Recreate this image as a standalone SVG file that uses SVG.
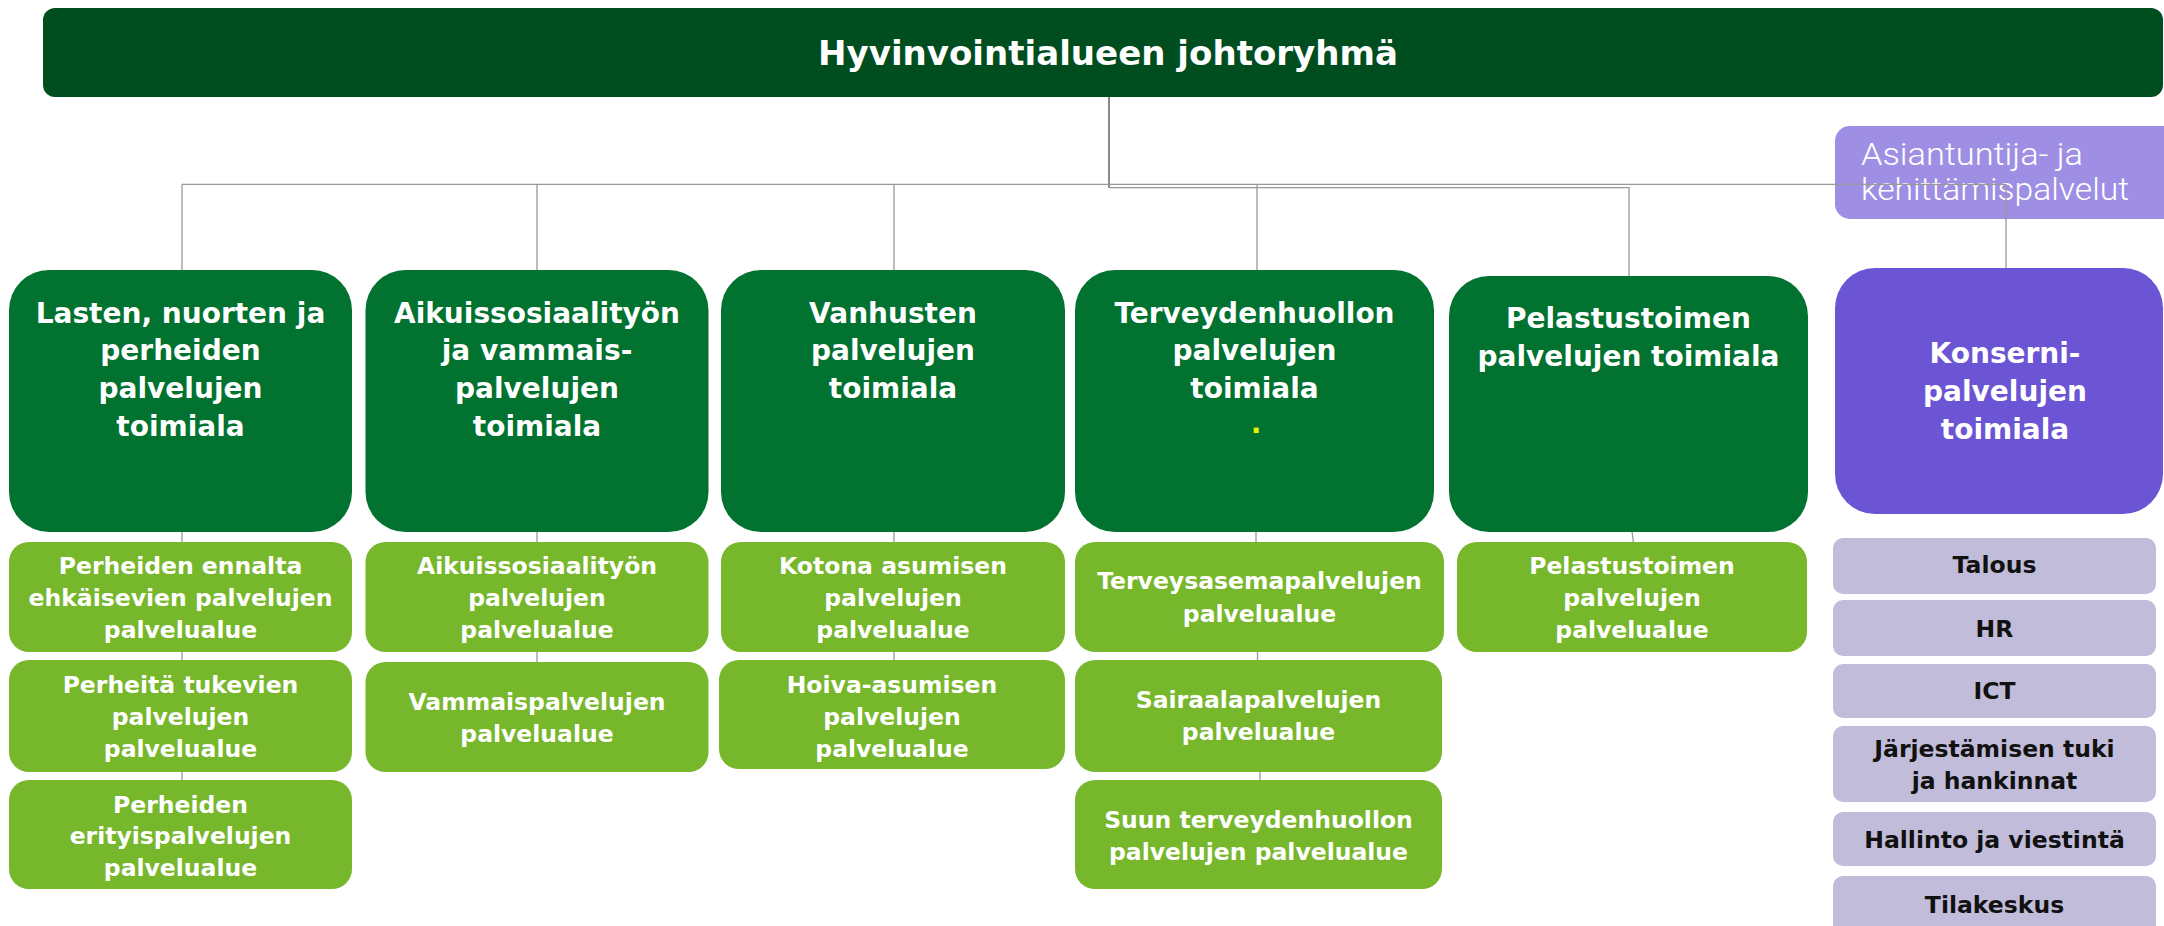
<svg xmlns="http://www.w3.org/2000/svg" width="2164" height="926" viewBox="0 0 2164 926">
<style>
.top{fill:#004D1F}
.main{fill:#01722F}
.sub{fill:#77B72B}
.kon{fill:#6B55D5}
.asi{fill:#9F8FE4}
.lav{fill:#C1BCDA}
.t{font-family:"DejaVu Sans","Liberation Sans",sans-serif;font-weight:bold;text-anchor:middle;fill:#FFFFFF}
.tt{font-size:34px}
.tm{font-size:28px}
.ts{font-size:23.5px}
.tl{fill:#111111}
.ta{font-family:Roboto,"Noto Sans",sans-serif;font-weight:300;font-size:31px;fill:#FFFFFF}
.c{stroke:#999999;stroke-width:1.3;fill:none}
.ck{stroke:#8A8A8A;stroke-width:2;fill:none}
</style>
<rect width="2164" height="926" fill="#FFFFFF"/>

<g id="johtoryhma">
<rect class="top" x="43" y="8" width="2120" height="89" rx="12"/>
<text class="t tt" x="1108" y="65" textLength="580" lengthAdjust="spacingAndGlyphs">Hyvinvointialueen johtoryhmä</text>
</g>

<g id="asiantuntija">
<rect class="asi" x="1835" y="126" width="345" height="93" rx="15"/>
<text class="ta" x="1861" y="165" textLength="222" lengthAdjust="spacingAndGlyphs">Asiantuntija- ja</text>
<text class="ta" x="1861" y="200" textLength="268" lengthAdjust="spacingAndGlyphs">kehittämispalvelut</text>
</g>

<g id="connectors">
<path class="ck" d="M1109 97 V188"/>
<path class="c" d="M182 184.3 H2006"/>
<path class="c" d="M1109 187.7 H1629 V276"/>
<path class="c" d="M182 184.3 V270 M537 184.3 V270 M894 184.3 V270 M1257 184.3 V270 M2006 184.3 V268"/>
<path class="c" d="M182 532 V542 M182 652 V660 M182 772 V780"/>
<path class="c" d="M537 532 V542 M537 652 V662"/>
<path class="c" d="M894 532 V542 M894 652 V660"/>
<path class="c" d="M1256 532 V542 M1257.5 652 V660 M1260 772 V780"/>
<path class="c" d="M1630 515 L1633.3 542"/>
</g>

<g id="lasten">
<rect class="main" x="9" y="270" width="343" height="262" rx="40"/>
<text class="t tm" x="180.5" y="323">Lasten, nuorten ja</text>
<text class="t tm" x="180.5" y="360">perheiden</text>
<text class="t tm" x="180.5" y="398">palvelujen</text>
<text class="t tm" x="180.5" y="436">toimiala</text>
</g>
<g id="aikuis">
<rect class="main" x="365.5" y="270" width="343" height="262" rx="40"/>
<text class="t tm" x="537" y="323">Aikuissosiaalityön</text>
<text class="t tm" x="537" y="360">ja vammais-</text>
<text class="t tm" x="537" y="398">palvelujen</text>
<text class="t tm" x="537" y="436">toimiala</text>
</g>
<g id="vanhusten">
<rect class="main" x="721" y="270" width="344" height="262" rx="40"/>
<text class="t tm" x="893" y="323">Vanhusten</text>
<text class="t tm" x="893" y="360">palvelujen</text>
<text class="t tm" x="893" y="398">toimiala</text>
</g>
<g id="terveys">
<rect class="main" x="1075" y="270" width="359" height="262" rx="40"/>
<text class="t tm" x="1254.5" y="323">Terveydenhuollon</text>
<text class="t tm" x="1254.5" y="360">palvelujen</text>
<text class="t tm" x="1254.5" y="398">toimiala</text>
<text class="t tm" x="1256" y="433" style="fill:#E8F000">.</text>
</g>
<g id="pelastus">
<rect class="main" x="1449" y="276" width="359" height="256" rx="40"/>
<text class="t tm" x="1628.5" y="328">Pelastustoimen</text>
<text class="t tm" x="1628.5" y="366">palvelujen toimiala</text>
</g>
<g id="konserni">
<rect class="kon" x="1835" y="268" width="328" height="246" rx="40"/>
<text class="t tm" x="2005" y="363">Konserni-</text>
<text class="t tm" x="2005" y="401">palvelujen</text>
<text class="t tm" x="2005" y="439">toimiala</text>
</g>

<g id="perheiden-ennalta">
<rect class="sub" x="9" y="542" width="343" height="110" rx="20"/>
<text class="t ts" x="180.5" y="574">Perheiden ennalta</text>
<text class="t ts" x="180.5" y="606">ehkäisevien palvelujen</text>
<text class="t ts" x="180.5" y="638">palvelualue</text>
</g>
<g id="perheita-tukevien">
<rect class="sub" x="9" y="660" width="343" height="112" rx="20"/>
<text class="t ts" x="180.5" y="693">Perheitä tukevien</text>
<text class="t ts" x="180.5" y="725">palvelujen</text>
<text class="t ts" x="180.5" y="757">palvelualue</text>
</g>
<g id="perheiden-erityis">
<rect class="sub" x="9" y="780" width="343" height="109" rx="20"/>
<text class="t ts" x="180.5" y="813">Perheiden</text>
<text class="t ts" x="180.5" y="844">erityispalvelujen</text>
<text class="t ts" x="180.5" y="876">palvelualue</text>
</g>
<g id="aikuissosiaalityo">
<rect class="sub" x="365.5" y="542" width="343" height="110" rx="20"/>
<text class="t ts" x="537" y="574">Aikuissosiaalityön</text>
<text class="t ts" x="537" y="606">palvelujen</text>
<text class="t ts" x="537" y="638">palvelualue</text>
</g>
<g id="vammais">
<rect class="sub" x="365.5" y="662" width="343" height="110" rx="20"/>
<text class="t ts" x="537" y="710">Vammaispalvelujen</text>
<text class="t ts" x="537" y="742">palvelualue</text>
</g>
<g id="kotona">
<rect class="sub" x="721" y="542" width="344" height="110" rx="20"/>
<text class="t ts" x="893" y="574">Kotona asumisen</text>
<text class="t ts" x="893" y="606">palvelujen</text>
<text class="t ts" x="893" y="638">palvelualue</text>
</g>
<g id="hoiva">
<rect class="sub" x="719" y="660" width="346" height="109" rx="20"/>
<text class="t ts" x="892" y="693">Hoiva-asumisen</text>
<text class="t ts" x="892" y="725">palvelujen</text>
<text class="t ts" x="892" y="757">palvelualue</text>
</g>
<g id="terveysasema">
<rect class="sub" x="1075" y="542" width="369" height="110" rx="20"/>
<text class="t ts" x="1259.5" y="589">Terveysasemapalvelujen</text>
<text class="t ts" x="1259.5" y="622">palvelualue</text>
</g>
<g id="sairaala">
<rect class="sub" x="1075" y="660" width="367" height="112" rx="20"/>
<text class="t ts" x="1258.5" y="708">Sairaalapalvelujen</text>
<text class="t ts" x="1258.5" y="740">palvelualue</text>
</g>
<g id="suun">
<rect class="sub" x="1075" y="780" width="367" height="109" rx="20"/>
<text class="t ts" x="1258.5" y="828">Suun terveydenhuollon</text>
<text class="t ts" x="1258.5" y="860">palvelujen palvelualue</text>
</g>
<g id="pelastus-alue">
<rect class="sub" x="1457" y="542" width="350" height="110" rx="20"/>
<text class="t ts" x="1632" y="574">Pelastustoimen</text>
<text class="t ts" x="1632" y="606">palvelujen</text>
<text class="t ts" x="1632" y="638">palvelualue</text>
</g>

<g id="talous">
<rect class="lav" x="1833" y="538" width="323" height="56" rx="10"/>
<text class="t ts tl" x="1994.5" y="573">Talous</text>
</g>
<g id="hr">
<rect class="lav" x="1833" y="600" width="323" height="56" rx="10"/>
<text class="t ts tl" x="1994.5" y="637">HR</text>
</g>
<g id="ict">
<rect class="lav" x="1833" y="664" width="323" height="54" rx="10"/>
<text class="t ts tl" x="1994.5" y="699">ICT</text>
</g>
<g id="jarjestaminen">
<rect class="lav" x="1833" y="726" width="323" height="76" rx="10"/>
<text class="t ts tl" x="1994.5" y="757">Järjestämisen tuki</text>
<text class="t ts tl" x="1994.5" y="789">ja hankinnat</text>
</g>
<g id="hallinto">
<rect class="lav" x="1833" y="812" width="323" height="54" rx="10"/>
<text class="t ts tl" x="1994.5" y="848">Hallinto ja viestintä</text>
</g>
<g id="tilakeskus">
<rect class="lav" x="1833" y="876" width="323" height="60" rx="10"/>
<text class="t ts tl" x="1994.5" y="913">Tilakeskus</text>
</g>
</svg>
